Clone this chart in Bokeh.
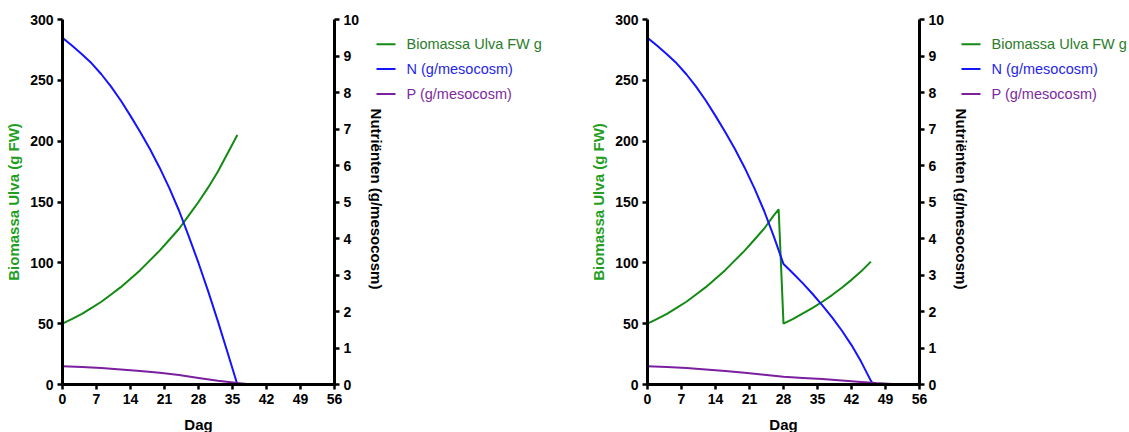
from bokeh.plotting import figure
from bokeh.models import Range1d, LinearAxis, FixedTicker
from bokeh.core.properties import value
from bokeh.layouts import row
from bokeh.embed import file_html
from bokeh.resources import INLINE
import math

# ---------------- data ----------------
x_ticks = [0, 7, 14, 21, 28, 35, 42, 49, 56]
y_left_ticks = [0, 50, 100, 150, 200, 250, 300]
y_right_ticks = [0, 1, 2, 3, 4, 5, 6, 7, 8, 9, 10]

# Panel 1
bio1_days = [0, 2, 4, 6, 8, 10, 12, 14, 16, 18, 20, 22, 24, 26, 28, 30, 32, 34, 36]
bio1_vals = [50, 54, 58, 63, 68, 74, 80, 87, 94, 102, 110, 119, 128, 139, 150, 162, 175, 190, 205]
n1_days = [0, 2, 4, 6, 8, 10, 12, 14, 16, 18, 20, 22, 24, 26, 28, 30, 32, 34, 36]
n1_vals = [9.5, 9.28, 9.05, 8.8, 8.5, 8.16, 7.78, 7.36, 6.92, 6.45, 5.94, 5.38, 4.76, 4.06, 3.33, 2.55, 1.73, 0.87, 0.0]
p1_days = [0, 4, 8, 12, 16, 20, 24, 28, 32, 36, 39]
p1_vals = [0.5, 0.48, 0.45, 0.41, 0.37, 0.32, 0.26, 0.18, 0.1, 0.04, 0.0]

# Panel 2
bio2_days = [0, 2, 4, 6, 8, 10, 12, 14, 16, 18, 20, 22, 24, 26, 27, 28, 30, 32, 34, 36, 38, 40, 42, 44, 46]
bio2_vals = [50, 54, 58, 63, 68, 74, 80, 87, 94, 102, 110, 119, 128, 139, 144, 50, 54, 58.5, 63, 68, 73.5, 79.5, 86, 93, 101]
n2_days = [0, 2, 4, 6, 8, 10, 12, 14, 16, 18, 20, 22, 24, 26, 28, 30, 32, 34, 36, 38, 40, 42, 44, 46, 46.5]
n2_vals = [9.5, 9.28, 9.05, 8.8, 8.5, 8.16, 7.78, 7.36, 6.92, 6.45, 5.94, 5.38, 4.76, 4.06, 3.3, 3.04, 2.77, 2.48, 2.17, 1.84, 1.48, 1.08, 0.62, 0.1, 0.0]
p2_days = [0, 4, 8, 12, 16, 20, 24, 28, 32, 36, 40, 44, 47, 52]
p2_vals = [0.5, 0.48, 0.45, 0.41, 0.37, 0.32, 0.27, 0.21, 0.18, 0.15, 0.11, 0.07, 0.04, 0.0]

labels = ["Biomassa Ulva FW g", "N (g/mesocosm)", "P (g/mesocosm)"]
right_axis_label = "Nutriënten (g/mesocosm)"

GREEN = "#138a13"
GREEN_LABEL = "#1f9e1f"
GREEN_TEXT = "#2a7d2a"
BLUE = "#1414ff"
BLUE_TEXT = "#2626e6"
PURPLE = "#7b1fa0"
PURPLE_TEXT = "#7d2a9e"
FONT = "Liberation Sans"

H = 432
FRAME_W, FRAME_H = 272, 365
BORDER_L, BORDER_T, BORDER_R = 62, 19, 34
BORDER_B = H - BORDER_T - FRAME_H
PANEL_W = BORDER_L + FRAME_W + BORDER_R          # 368
Y_MAX = 300


def style_axis(ax, label_color="black", standoff=6):
    ax.axis_line_width = 3
    ax.axis_line_color = "black"
    ax.major_tick_line_width = 2.5
    ax.major_tick_out = 5
    ax.major_tick_in = 0
    ax.minor_tick_line_color = None
    ax.major_label_text_font = FONT
    ax.major_label_text_font_style = "bold"
    ax.major_label_text_font_size = "14px"
    ax.major_label_text_color = "black"
    ax.major_label_standoff = 4
    ax.axis_label_text_font = FONT
    ax.axis_label_text_font_style = "bold"
    ax.axis_label_text_font_size = "15px"
    ax.axis_label_text_color = label_color
    ax.axis_label_standoff = standoff


def make_panel(bd, bv, nd, nv, pd_, pv):
    p = figure(frame_width=FRAME_W, frame_height=FRAME_H,
               min_border_left=BORDER_L, min_border_right=BORDER_R,
               min_border_top=BORDER_T, min_border_bottom=BORDER_B,
               x_range=Range1d(0, 56), y_range=Range1d(0, Y_MAX),
               output_backend="svg", toolbar_location=None)
    p.outline_line_color = None
    p.xgrid.visible = False
    p.ygrid.visible = False
    p.background_fill_color = "white"
    p.border_fill_color = "white"
    p.extra_y_ranges = {"nut": Range1d(0, 10)}

    p.xaxis.ticker = FixedTicker(ticks=x_ticks)
    p.xaxis.axis_label = "Dag"
    style_axis(p.xaxis[0], standoff=9)
    p.yaxis.ticker = FixedTicker(ticks=y_left_ticks)
    p.yaxis.axis_label = "Biomassa Ulva (g FW)"
    style_axis(p.yaxis[0], label_color=GREEN_LABEL, standoff=5)

    ra = LinearAxis(y_range_name="nut", ticker=FixedTicker(ticks=y_right_ticks))
    style_axis(ra)
    p.add_layout(ra, "right")

    p.line(bd, bv, line_color=GREEN, line_width=2)
    p.line(nd, nv, line_color=BLUE, line_width=2, y_range_name="nut")
    p.line(pd_, pv, line_color=PURPLE, line_width=2, y_range_name="nut")
    return p


def from_top(px):
    # pixel distance from the figure top -> value on the side strip's vertical scale
    return (BORDER_T + FRAME_H - px) / FRAME_H * Y_MAX


def make_side(width):
    # strip to the right of a panel: the right axis' title and the legend
    s = figure(width=width, height=H, x_range=Range1d(0, width), y_range=Range1d(0, Y_MAX),
               min_border_left=0, min_border_right=0,
               min_border_top=BORDER_T, min_border_bottom=BORDER_B,
               x_axis_location=None, y_axis_location=None,
               output_backend="svg", toolbar_location=None)
    if s.title is not None:
        s.title.visible = False
    s.outline_line_color = None
    s.grid.visible = False
    s.background_fill_color = "white"
    s.border_fill_color = "white"

    # right-axis title, reading top to bottom
    s.text(x=[8], y=[from_top(200)], text=[right_axis_label], angle=-math.pi / 2,
           text_align="center", text_baseline="middle", text_color="black",
           text_font=value(FONT), text_font_style="bold", text_font_size=value("15px"))

    # legend: coloured line + coloured label per series
    ys = [from_top(r) for r in (44, 69, 94)]
    s.segment(x0=[8] * 3, y0=ys, x1=[27] * 3, y1=ys,
              line_color=[GREEN, BLUE, PURPLE], line_width=2)
    s.text(x=[38] * 3, y=ys, text=labels, text_color=[GREEN_TEXT, BLUE_TEXT, PURPLE_TEXT],
           text_align="left", text_baseline="middle",
           text_font=value(FONT), text_font_size=value("14.5px"))
    return s


p1 = make_panel(bio1_days, bio1_vals, n1_days, n1_vals, p1_days, p1_vals)
s1 = make_side(585 - PANEL_W)
p2 = make_panel(bio2_days, bio2_vals, n2_days, n2_vals, p2_days, p2_vals)
s2 = make_side(1129 - 585 - PANEL_W)

layout = row(p1, s1, p2, s2, spacing=0)
open("out.html", "w").write(file_html(layout, INLINE))
